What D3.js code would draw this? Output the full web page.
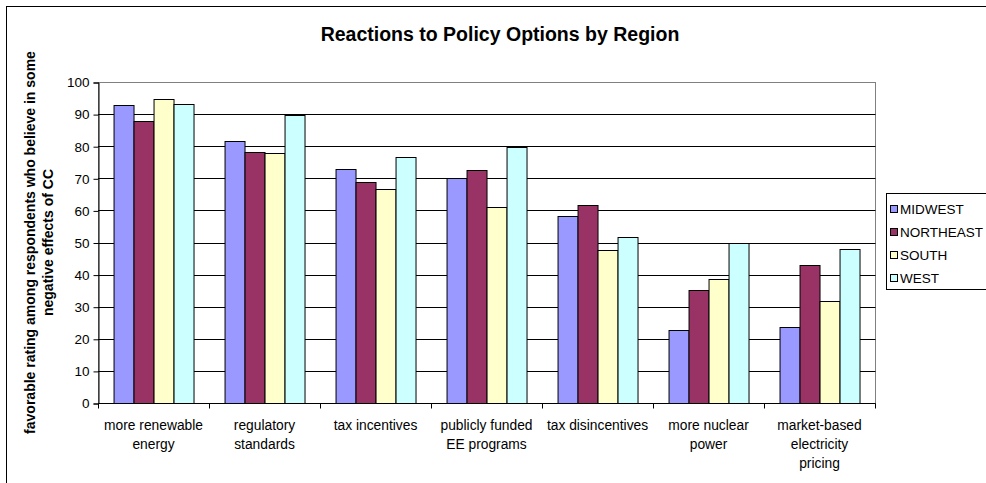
<!DOCTYPE html>
<html>
<head>
<meta charset="utf-8">
<script src="https://cdn.jsdelivr.net/npm/d3@7"></script>
<style>
  html, body { margin: 0; padding: 0; background: #fff; overflow: hidden; }
  svg { display: block; font-family: Arial, "Liberation Sans", sans-serif; }
</style>
</head>
<body>
<svg id="chart" width="986" height="483"></svg>
<script>
const title = "Reactions to Policy Options by Region";
const yTitleLines = ["favorable rating among respondents who believe in some", "negative effects of CC"];
const categories = [
  ["more renewable", "energy"],
  ["regulatory", "standards"],
  ["tax incentives"],
  ["publicly funded", "EE programs"],
  ["tax disincentives"],
  ["more nuclear", "power"],
  ["market-based", "electricity", "pricing"]
];
const seriesNames = ["MIDWEST", "NORTHEAST", "SOUTH", "WEST"];
const seriesColors = ["#9999FF", "#993366", "#FFFFCC", "#CCFFFF"];
const midwest   = [92.9, 81.6, 72.9, 70.1, 58.1, 22.6, 23.7];
const northeast = [88.0, 78.2, 68.7, 72.5, 61.6, 35.2, 43.1];
const south     = [94.6, 77.9, 66.7, 61.2, 47.8, 38.6, 31.8];
const west      = [93.3, 89.8, 76.5, 79.9, 51.7, 49.8, 48.1];
const seriesValues = [midwest, northeast, south, west];
const yTicks = [0, 10, 20, 30, 40, 50, 60, 70, 80, 90, 100];

const svg = d3.select("#chart");
const plot = { left: 98, right: 875, top: 82, bottom: 403 };

// outer chart border
svg.append("rect").attr("x", 6.5).attr("y", 6.5).attr("width", 1000).attr("height", 500)
  .attr("fill", "#fff").attr("stroke", "#000").attr("stroke-width", 1);

const catIdx = d3.range(categories.length);
const x0 = d3.scaleBand().domain(catIdx).range([plot.left, plot.right]).paddingInner(0.28).paddingOuter(0.14);
const x1 = d3.scaleBand().domain(d3.range(seriesNames.length)).range([0, x0.bandwidth()]);
const y = d3.scaleLinear().domain([0, 100]).range([plot.bottom, plot.top]);
const xBound = d3.scaleLinear().domain([0, categories.length]).range([plot.left, plot.right]);

// plot area border
svg.append("rect").attr("x", plot.left + 0.5).attr("y", plot.top + 0.5)
  .attr("width", plot.right - plot.left).attr("height", plot.bottom - plot.top)
  .attr("fill", "#fff").attr("stroke", "#808080");

// gridlines
svg.append("g").selectAll("line").data(yTicks.filter(t => t > 0 && t < 100)).join("line")
  .attr("x1", plot.left).attr("x2", plot.right + 0.5)
  .attr("y1", d => Math.round(y(d)) + 0.5).attr("y2", d => Math.round(y(d)) + 0.5)
  .attr("stroke", "#000").attr("stroke-width", 1);

// bars
const groups = svg.append("g").selectAll("g").data(catIdx).join("g")
  .attr("transform", i => `translate(${x0(i)},0)`);
groups.selectAll("rect").data(i => seriesValues.map((s, k) => ({ k, v: s[i] }))).join("rect")
  .attr("x", d => Math.round(x1(d.k)) + 0.5)
  .attr("y", d => Math.round(y(d.v)) + 0.5)
  .attr("width", x1.bandwidth())
  .attr("height", d => Math.round(y(0)) - Math.round(y(d.v)))
  .attr("fill", d => seriesColors[d.k])
  .attr("stroke", "#000").attr("stroke-width", 1);

// y axis
const yAxis = d3.axisLeft(y).tickValues(yTicks).tickSize(5).tickPadding(4);
const gy = svg.append("g").attr("transform", `translate(${plot.left + 0.5},0.5)`).call(yAxis);
gy.select(".domain").attr("stroke", "#000");
gy.selectAll(".tick line").attr("stroke", "#000");
gy.selectAll("text").attr("font-size", 13.5).attr("fill", "#000").attr("font-family", "Arial, 'Liberation Sans', sans-serif");

// x axis
const gx = svg.append("g").attr("transform", `translate(0,${plot.bottom + 0.5})`);
gx.append("line").attr("x1", plot.left).attr("x2", plot.right + 0.5).attr("y1", 0).attr("y2", 0).attr("stroke", "#000");
gx.selectAll("line.tk").data(d3.range(categories.length + 1)).join("line").attr("class", "tk")
  .attr("x1", d => Math.round(xBound(d)) + 0.5).attr("x2", d => Math.round(xBound(d)) + 0.5)
  .attr("y1", 0).attr("y2", 5).attr("stroke", "#000");
const lbl = gx.selectAll("text").data(catIdx).join("text")
  .attr("text-anchor", "middle").attr("font-size", 13.8).attr("fill", "#000")
  .attr("transform", i => `translate(${(xBound(i) + xBound(i + 1)) / 2},0)`);
lbl.selectAll("tspan").data(i => categories[i]).join("tspan")
  .attr("x", 0).attr("y", (d, j) => 26 + j * 19).text(d => d);

// title
svg.append("text").attr("x", 500).attr("y", 41).attr("text-anchor", "middle")
  .attr("font-size", 19.5).attr("font-weight", "bold").text(title);

// y title
const yt = svg.append("text").attr("transform", `translate(0,${(plot.top + plot.bottom) / 2}) rotate(-90)`)
  .attr("text-anchor", "middle").attr("font-size", 14).attr("font-weight", "bold");
yt.selectAll("tspan").data(yTitleLines).join("tspan")
  .attr("x", 0).attr("y", (d, j) => 35 + j * 18).text(d => d);

// legend
const lg = svg.append("g").attr("transform", "translate(886,193)");
lg.append("rect").attr("x", 0.5).attr("y", 0.5).attr("width", 120).attr("height", 96)
  .attr("fill", "#fff").attr("stroke", "#000");
const items = lg.selectAll("g").data(seriesNames).join("g")
  .attr("transform", (d, k) => `translate(0,${16 + k * 23})`);
items.append("rect").attr("x", 4.5).attr("y", -3.5).attr("width", 7).attr("height", 7)
  .attr("fill", (d, k) => seriesColors[k]).attr("stroke", "#000");
items.append("text").attr("x", 14).attr("y", 5).attr("font-size", 13.5).text(d => d);
</script>
</body>
</html>
